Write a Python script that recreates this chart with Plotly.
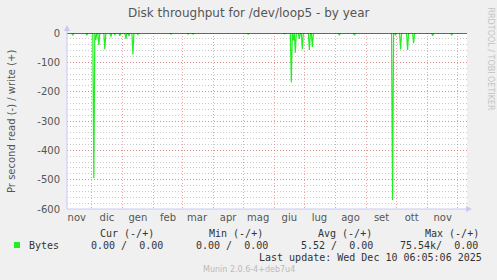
import pandas as pd
import plotly.graph_objects as go

# ---- data ----
spike_dates = ["2024-11-12", "2024-11-26", "2024-12-03", "2024-12-05", "2024-12-08",
               "2024-12-14", "2024-12-20", "2024-12-24", "2024-12-29", "2025-01-04",
               "2025-01-07", "2025-01-11", "2025-01-16", "2025-02-18", "2025-03-07",
               "2025-03-12", "2025-05-06", "2025-06-11", "2025-06-18", "2025-06-20",
               "2025-06-22", "2025-06-26", "2025-06-29", "2025-07-06", "2025-07-09",
               "2025-08-05", "2025-08-20", "2025-09-27", "2025-09-30", "2025-10-05",
               "2025-10-12", "2025-10-18", "2025-11-06", "2025-11-25"]
spike_values = [-8, -8, -495, -24, -41,
                -56, -12, -5, -10, -20,
                -10, -73, -5, -4, -4,
                -4, -4, -3, -169, -25,
                -67, -20, -55, -58, -48,
                -8, -8, -569, -8, -56,
                -58, -35, -10, -8]

month_labels = ["nov", "dic", "gen", "feb", "mar", "apr", "mag", "giu",
                "lug", "ago", "set", "ott", "nov"]
label_dates = ["2024-11-16", "2024-12-16", "2025-01-16", "2025-02-15", "2025-03-16",
               "2025-04-16", "2025-05-16", "2025-06-16", "2025-07-16", "2025-08-16",
               "2025-09-16", "2025-10-16", "2025-11-16"]
month_starts = ["2024-12-01", "2025-01-01", "2025-02-01", "2025-03-01", "2025-04-01",
                "2025-05-01", "2025-06-01", "2025-07-01", "2025-08-01", "2025-09-01",
                "2025-10-01", "2025-11-01", "2025-12-01"]
y_ticks = [0, -100, -200, -300, -400, -500, -600]

legend_name = "Bytes"
stat_headers = ["Cur (-/+)", "Min (-/+)", "Avg (-/+)", "Max (-/+)"]
stat_values = ["0.00 /  0.00", "0.00 /  0.00", "5.52 /  0.00", "75.54k/  0.00"]

range_start = "2024-11-06 06:00"
range_end = "2025-12-10 06:05"

# daily series: zero except the recorded spikes
days = pd.date_range("2024-11-06", "2025-12-10", freq="D")
series = pd.Series(0.0, index=days)
series.loc[pd.to_datetime(spike_dates)] = spike_values

W, H = 497, 280
L, R, T, B = 67, 30, 33, 71
PW, PH = W - L - R, H - T - B

def px(x):
    return (x - L) / PW

def py(y):
    return (H - B - y) / PH

GREEN = "#22ee22"
TXT = "#555555"
SANS = "DejaVu Sans"
MONO = "DejaVu Sans Mono"

fig = go.Figure()
fig.add_trace(go.Scatter(x=series.index, y=series.values, mode="lines",
                         line=dict(color=GREEN, width=1.2), hoverinfo="skip",
                         showlegend=False))

fig.update_layout(
    width=W, height=H,
    margin=dict(l=L, r=R, t=T, b=B),
    paper_bgcolor="#f0f0f0", plot_bgcolor="#ffffff",
    showlegend=False,
    xaxis=dict(range=[range_start, range_end], type="date",
               tickmode="array", tickvals=label_dates, ticktext=month_labels,
               showgrid=False, zeroline=False, showline=False, ticks="",
               ticklabelstandoff=1,
               tickfont=dict(family=SANS, size=10, color=TXT),
               minor=dict(tickmode="array", tickvals=month_starts, showgrid=True,
                          gridcolor="rgba(230,90,90,0.55)", griddash="1px,2px",
                          gridwidth=1, ticks="")),
    yaxis=dict(range=[-600, 0], tickmode="array", tickvals=y_ticks,
               ticktext=[str(v) for v in y_ticks],
               showgrid=True, gridcolor="rgba(230,90,90,0.55)", griddash="1px,2px",
               zeroline=False, showline=False, ticks="", ticklabelstandoff=6,
               tickfont=dict(family=SANS, size=10, color=TXT),
               minor=dict(dtick=20, tick0=0, showgrid=True,
                          gridcolor="rgba(150,150,150,0.5)", griddash="1px,2px",
                          ticks="")),
)

AX = "#c8c8f4"
shapes = [
    # zero line
    dict(type="line", xref="paper", yref="y", x0=0, x1=1, y0=0, y1=0,
         line=dict(color="#000000", width=1), layer="above"),
    # left axis + arrow
    dict(type="line", xref="paper", yref="paper", x0=0, x1=0, y0=0, y1=py(28),
         line=dict(color=AX, width=1), layer="above"),
    dict(type="path", xref="paper", yref="paper",
         path=f"M {px(64)} {py(31)} L {px(70)} {py(31)} L {px(67)} {py(25)} Z",
         fillcolor=AX, line=dict(color=AX, width=0), layer="above"),
    # bottom axis + arrow
    dict(type="line", xref="paper", yref="paper", x0=0, x1=px(469), y0=0, y1=0,
         line=dict(color=AX, width=1), layer="above"),
    dict(type="path", xref="paper", yref="paper",
         path=f"M {px(466)} {py(206)} L {px(466)} {py(212)} L {px(472)} {py(209)} Z",
         fillcolor=AX, line=dict(color=AX, width=0), layer="above"),
    # legend swatch
    dict(type="rect", xref="paper", yref="paper", x0=px(14), x1=px(20),
         y0=py(248), y1=py(242), fillcolor=GREEN, line=dict(width=0)),
]
fig.update_layout(shapes=shapes)

def nb(s):
    return s.replace(" ", "\u00a0")

ann = []
ann.append(dict(text="Disk throughput for /dev/loop5 - by year", x=px(249), y=py(13),
                font=dict(family=SANS, size=12, color=TXT)))
ann.append(dict(text="Pr second read (-) / write (+)", x=px(11), y=py(121), textangle=-90,
                font=dict(family=SANS, size=10, color=TXT)))
ann.append(dict(text="RRDTOOL / TOBI OETIKER", x=px(490), y=py(5), textangle=90,
                yanchor="top", font=dict(family=SANS, size=8, color="#c4c4c4")))
ann.append(dict(text=legend_name, x=px(26.5), y=py(245.3), xanchor="left",
                font=dict(family=MONO, size=10, color="#333333")))
hdr_x = [98.3, 207.3, 315.7, 423.3]
val_x = [89.3, 194.3, 299.3, 398.3]
for h, xh in zip(stat_headers, hdr_x):
    ann.append(dict(text=nb(h), x=px(xh), y=py(233.3), xanchor="left",
                    font=dict(family=MONO, size=10, color="#333333")))
for v, xv in zip(stat_values, val_x):
    ann.append(dict(text=nb(v), x=px(xv), y=py(245.3), xanchor="left",
                    font=dict(family=MONO, size=10, color="#333333")))
ann.append(dict(text=nb("Last update: Wed Dec 10 06:05:06 2025"), x=px(483.5), y=py(257.7),
                xanchor="right", font=dict(family=MONO, size=10, color="#333333")))
ann.append(dict(text="Munin 2.0.6-4+deb7u4", x=px(249), y=py(269.3),
                font=dict(family=SANS, size=8, color="#bbbbbb")))
for a in ann:
    a.setdefault("xanchor", "center")
    a.setdefault("yanchor", "middle")
    a.update(xref="paper", yref="paper", showarrow=False)
fig.update_layout(annotations=ann)

fig.write_html("out.html")
